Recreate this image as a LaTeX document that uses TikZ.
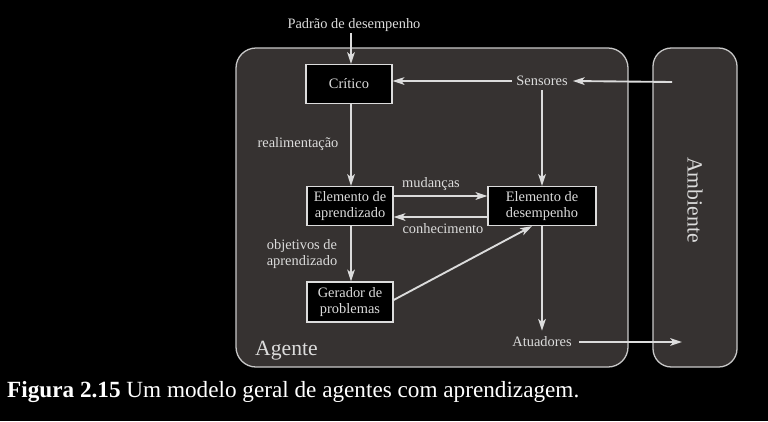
\documentclass[tikz,border=0pt]{standalone}
\usepackage{fontspec}
\setmainfont{Liberation Serif}
\usetikzlibrary{arrows.meta,calc}
\definecolor{panel}{HTML}{363231}
\definecolor{lite}{HTML}{DCDCDC}
\definecolor{edge}{HTML}{C8C8C8}
\begin{document}
\begin{tikzpicture}[x=0.03cm,y=-0.03cm,
  lab/.style={text=lite,font=\fontsize{12.3}{13}\selectfont,inner sep=0pt,align=center},
  box/.style={draw=lite,fill=black,line width=1.1pt,text=lite,font=\fontsize{12.3}{13}\selectfont,align=center,inner sep=0pt,minimum width=2.58cm,minimum height=1.16cm},
  arr/.style={draw=lite,line width=1.6pt,-{Stealth[length=10pt,width=6.5pt,inset=2.5pt]}},
  panelbox/.style={draw=edge,fill=panel,line width=1.1pt}]
\fill[black] (0,0) rectangle (768,421);
\useasboundingbox (0,0) rectangle (768,421);
% panels
\draw[panelbox,rounded corners=0.6cm] (236,48) rectangle (628,367);
\draw[panelbox,rounded corners=0.55cm] (653,48) rectangle (737,367);
% nodes
\node[box] (critico) at (349,84) {Crítico};
\node[box,minimum height=1.17cm] (aprend) at (350,206) {Elemento de\\aprendizado};
\node[box,minimum width=3.24cm,minimum height=1.17cm] (desemp) at (542,206) {Elemento de\\desempenho};
\node[box,minimum height=1.2cm] (gerador) at (350,302) {Gerador de\\problemas};
\node[lab] (padrao) at (354,25) {Padrão de desempenho};
\node[lab] (sensores) at (542,81) {Sensores};
\node[lab] (atuadores) at (542,342) {Atuadores};
\node[lab] (realim) at (298,144) {realimentação};
\node[lab] (mudancas) at (431,184) {mudanças};
\node[lab] (conhec) at (443,229) {conhecimento};
\node[lab] (objetivos) at (302,254) {objetivos de\\aprendizado};
\node[text=lite,font=\fontsize{18.5}{20}\selectfont,inner sep=0pt,anchor=base west] (agente) at (255,355) {Agente};
\node[text=lite,font=\fontsize{18.5}{20}\selectfont,inner sep=0pt,rotate=-90] (ambiente) at (695,200) {Ambiente};
\node[text=white,font=\fontsize{19.8}{21}\selectfont,inner sep=0pt,anchor=base west] (caption) at (7,397) {\textbf{Figura 2.15} Um modelo geral de agentes com aprendizagem.};
\coordinate (envin) at (672,82);
\coordinate (envout) at (682,342);
% connectors
\draw[arr] (padrao.south -| critico.north) ++(2,1) coordinate (ptop) -- (ptop |- critico.north);
\draw[arr] (sensores.west) ++(-4,0) -- (critico.east |- sensores.west);
\draw[arr] (envin) -- ($(sensores.east)+(5,0)$);
\draw[arr] ($(sensores.south)+(0,4)$) -- (desemp.north);
\draw[arr] ($(critico.south)+(2,0)$) -- ($(aprend.north)+(1,0)$);
\draw[arr] ($(aprend.east)+(0,-10)$) -- ($(desemp.west)+(0,-10)$);
\draw[arr] ($(desemp.west)+(0,11)$) -- ($(aprend.east)+(0,11)$);
\draw[arr] ($(aprend.south)+(1,0)$) -- ($(gerador.north)+(1,0)$);
\draw[arr] ($(gerador.east)+(0,-2)$) -- ($(desemp.south)+(-10,0)$);
\draw[arr] (desemp.south) -- ($(atuadores.north)+(0,-6)$);
\draw[arr] ($(atuadores.east)+(7,0)$) -- (envout);
\end{tikzpicture}
\end{document}
